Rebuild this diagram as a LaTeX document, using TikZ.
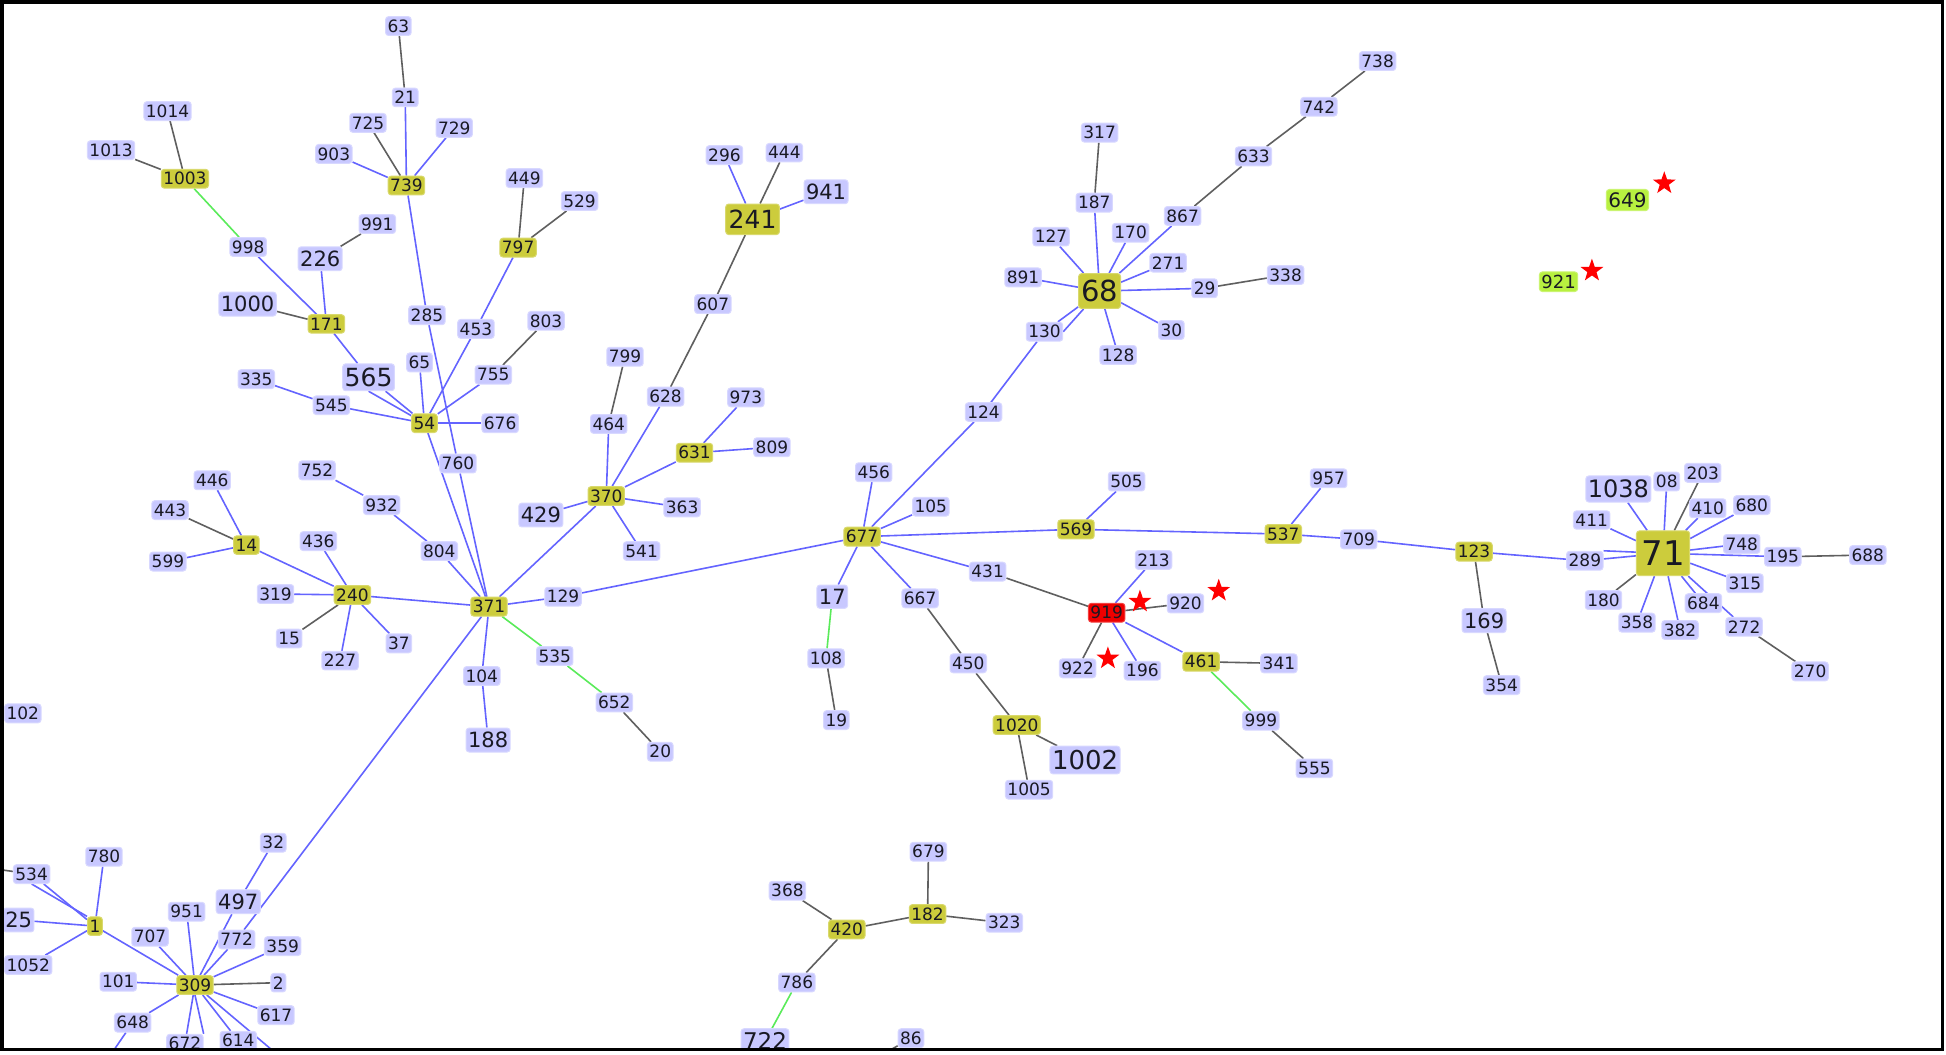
\documentclass[tikz,border=0pt]{standalone}
\usepackage{fontspec}
\setmainfont{DejaVu Sans}
\usetikzlibrary{backgrounds,shapes.geometric}
\definecolor{lav}{RGB}{200,200,255}
\definecolor{lavedge}{RGB}{216,216,255}
\definecolor{hubyel}{RGB}{204,204,60}
\definecolor{redn}{RGB}{238,0,0}
\definecolor{grn}{RGB}{184,240,64}
\definecolor{eblue}{RGB}{100,100,255}
\definecolor{egray}{RGB}{95,95,95}
\definecolor{egreen}{RGB}{90,235,90}
\definecolor{txt}{RGB}{25,25,35}
\tikzset{
  fs/.style={font=\fontsize{#1}{#1}\selectfont},
  lab/.style={fill=lav, draw=lavedge, line width=1pt, rounded corners=3pt,
              inner xsep=2pt, inner ysep=3pt, text=txt, fs=17},
  big/.style={lab, inner ysep=4pt, fs=21},
  hub/.style={lab, fill=hubyel, draw=hubyel!75!white},
  redbox/.style={lab, fill=redn, draw=redn!75!white},
  grnbox/.style={lab, fill=grn, draw=grn!75!white},
  redstar/.style={star, star points=5, star point ratio=2.5, fill=red, draw=none,
                  minimum size=24pt, inner sep=0pt},
  be/.style={draw=eblue, line width=1.6pt},
  ge/.style={draw=egray, line width=1.6pt},
  gre/.style={draw=egreen, line width=1.6pt},
}
\begin{document}
\begin{tikzpicture}[x=1.2411pt, y=-1.2411pt]
\useasboundingbox (0,0) rectangle (1568,849.3);
\begin{scope}
\clip (1.6,1.6) rectangle (1565.3,845.6);
% ---------- top-left cluster
\node[lab] (n63) at (321,21) {63};
\node[lab] (n21) at (326.5,78.5) {21};
\node[lab] (n725) at (296.5,99) {725};
\node[lab] (n729) at (366,103) {729};
\node[lab] (n903) at (269,124) {903};
\node[hub] (n739) at (327.5,149.5) {739};
\node[lab] (n1014) at (135,89.5) {1014};
\node[lab] (n1013) at (89.5,121) {1013};
\node[hub] (n1003) at (149,144) {1003};
\node[lab] (n998) at (200,199) {998};
\node[lab] (n449) at (422.5,143.5) {449};
\node[lab] (n529) at (467,162) {529};
\node[hub] (n797) at (417.5,199.5) {797};
\node[lab] (n991) at (304,180.5) {991};
\node[big] (n226) at (258,208.5) {226};
\node[big] (n1000) at (199.5,245) {1000};
\node[hub] (n171) at (263,261) {171};
\node[lab] (n285) at (344,254) {285};
\node[lab] (n453) at (383.5,265) {453};
\node[lab] (n803) at (440,258.5) {803};
\node[lab] (n65) at (338,292) {65};
\node[lab, inner ysep=4pt, fs=25] (n565) at (297,304) {565};
\node[lab] (n755) at (397.5,302) {755};
\node[lab] (n335) at (206.5,305.5) {335};
\node[lab] (n545) at (267,326.5) {545};
\node[hub] (n54) at (342,341) {54};
\node[lab] (n676) at (403,341) {676};
\node[lab] (n760) at (369,373.5) {760};
\node[lab] (n752) at (255.5,379) {752};
\node[lab] (n932) at (307.5,407) {932};
\node[lab] (n446) at (171,387) {446};
\node[lab] (n443) at (137,411) {443};
\node[hub] (n14) at (198.5,439.2) {14};
\node[lab] (n599) at (135.3,452.5) {599};
\node[lab] (n436) at (256.5,436) {436};
\node[lab] (n804) at (354,444) {804};
\node[lab] (n319) at (222,478.6) {319};
\node[hub] (n240) at (284,479.4) {240};
\node[hub] (n371) at (394,488.8) {371};
\node[lab] (n129) at (453.7,480.8) {129};
\node[lab] (n15) at (233,514.5) {15};
\node[lab] (n37) at (321.4,518.4) {37};
\node[lab] (n227) at (274,532.3) {227};
\node[lab] (n104) at (388.2,544.7) {104};
\node[lab] (n535) at (447,528.6) {535};
\node[big] (n188) at (393.3,596.3) {188};
\node[lab] (n652) at (495,566) {652};
\node[lab] (n20) at (532,605.7) {20};
\node[lab] (n102) at (18.4,574.8) {102};
% ---------- middle
\node[lab] (n296) at (583.7,125) {296};
\node[lab] (n444) at (632,123) {444};
\node[big] (n941) at (665.6,154.5) {941};
\node[hub, inner xsep=3pt, inner ysep=6pt, fs=25] (n241) at (606.4,176.7) {241};
\node[lab] (n607) at (574.4,245) {607};
\node[lab] (n799) at (503.6,287.4) {799};
\node[lab] (n628) at (536.3,319.6) {628};
\node[lab] (n973) at (601,320.2) {973};
\node[lab] (n464) at (490.5,341.6) {464};
\node[hub] (n631) at (559.6,364.8) {631};
\node[lab] (n809) at (622,360.4) {809};
\node[hub] (n370) at (488.5,399.7) {370};
\node[big] (n429) at (435.8,415) {429};
\node[lab] (n363) at (549.6,408.8) {363};
\node[lab] (n541) at (517,444) {541};
\node[lab] (n456) at (704,380.5) {456};
\node[lab] (n105) at (750,408.3) {105};
\node[hub] (n677) at (694.6,432.4) {677};
\node[lab] (n124) at (792.5,332) {124};
\node[hub] (n569) at (867,426.5) {569};
\node[lab] (n505) at (907.7,388) {505};
\node[big] (n17) at (670.6,480.8) {17};
\node[lab] (n431) at (795.8,460.6) {431};
\node[lab] (n667) at (741.4,482.1) {667};
\node[lab] (n108) at (665.6,530.5) {108};
\node[lab] (n19) at (673.9,580.2) {19};
\node[lab] (n450) at (780.2,534.5) {450};
\node[hub] (n1020) at (819.3,584.2) {1020};
\node[lab, inner ysep=4pt, fs=26] (n1002) at (874.3,612.4) {1002};
\node[lab] (n1005) at (829.2,636.3) {1005};
\node[lab] (n213) at (929.5,451.2) {213};
\node[redbox] (n919) at (891.7,493.7) {919};
\node[lab] (n920) at (955.2,486.2) {920};
\node[lab] (n922) at (868.3,538.5) {922};
\node[lab] (n196) at (920.5,540.4) {196};
\node[hub] (n461) at (967.8,533.2) {461};
\node[lab] (n341) at (1030.5,534.5) {341};
\node[lab] (n999) at (1016,580.7) {999};
\node[lab] (n555) at (1059.1,619.1) {555};
\node[redstar] (st1) at (918.5,484.8) {};
\node[redstar] (st2) at (982,476) {};
\node[redstar] (st3) at (892.7,530.5) {};
% ---------- 68 cluster
\node[lab] (n317) at (886,106.9) {317};
\node[lab] (n187) at (881.7,163.3) {187};
\node[lab] (n127) at (846.9,190.7) {127};
\node[lab] (n170) at (911,187.5) {170};
\node[lab] (n867) at (952.9,174) {867};
\node[lab] (n633) at (1010,126) {633};
\node[lab] (n742) at (1062.7,86) {742};
\node[lab] (n738) at (1110,49.2) {738};
\node[lab] (n271) at (941.2,211.7) {271};
\node[lab] (n891) at (824.3,223.5) {891};
\node[hub, inner xsep=2.5pt, inner ysep=6.5pt, fs=29] (n68) at (886,234.5) {68};
\node[lab] (n29) at (970.6,232.3) {29};
\node[lab] (n338) at (1035.9,221.6) {338};
\node[lab] (n130) at (841.6,267.3) {130};
\node[lab] (n30) at (943.8,265.9) {30};
\node[lab] (n128) at (901,286) {128};
% ---------- right
\node[grnbox, fs=20] (n649) at (1311.3,161.2) {649};
\node[redstar] (st4) at (1341,147.7) {};
\node[grnbox, fs=18] (n921) at (1255.8,227) {921};
\node[redstar] (st5) at (1282.7,218.1) {};
\node[lab] (n957) at (1070.6,385.4) {957};
\node[hub] (n537) at (1034,430.3) {537};
\node[lab] (n709) at (1094.8,434.6) {709};
\node[hub] (n123) at (1187.7,444.5) {123};
\node[big] (n169) at (1195.8,500.1) {169};
\node[lab] (n354) at (1210,552) {354};
\node[lab] (n08) at (1343,388) {08};
\node[lab, inner ysep=4pt, fs=24] (n1038) at (1304,394) {1038};
\node[lab] (n203) at (1372,381) {203};
\node[lab] (n411) at (1282.5,419) {411};
\node[lab] (n410) at (1376,409.5) {410};
\node[lab] (n680) at (1411.5,407) {680};
\node[hub, inner xsep=5pt, inner ysep=10pt, fs=34] (n71) at (1340,445.8) {71};
\node[lab] (n748) at (1403.4,438.3) {748};
\node[lab] (n195) at (1436.5,448.6) {195};
\node[lab] (n688) at (1505,447.2) {688};
\node[lab] (n289) at (1277,451.8) {289};
\node[lab] (n180) at (1292,483.5) {180};
\node[lab] (n315) at (1406,470) {315};
\node[lab] (n684) at (1372.5,486) {684};
\node[lab] (n358) at (1319,501.7) {358};
\node[lab] (n382) at (1353.7,507.6) {382};
\node[lab] (n272) at (1405.3,505) {272};
\node[lab] (n270) at (1458.5,541) {270};
% ---------- bottom-left
\node[lab] (n534) at (25.5,704.3) {534};
\node[lab] (n780) at (83.8,690.3) {780};
\node[big] (n25) at (15,741.3) {25};
\node[hub] (n1) at (76.5,746.2) {1};
\node[lab] (n1052) at (22.8,777.6) {1052};
\node[lab] (n951) at (150.4,734.6) {951};
\node[lab] (n707) at (120.9,754.8) {707};
\node[big] (n497) at (192,726.6) {497};
\node[lab] (n32) at (220.2,679) {32};
\node[lab] (n772) at (190.7,757) {772};
\node[lab] (n359) at (227.8,762.3) {359};
\node[lab] (n101) at (95.3,791) {101};
\node[hub] (n309) at (157.1,793.7) {309};
\node[lab] (n2) at (224.3,791.8) {2};
\node[lab] (n648) at (106.9,824) {648};
\node[lab] (n617) at (222.4,817.9) {617};
\node[lab] (n614) at (192,838.6) {614};
\node[lab] (n672) at (149,841) {672};
\coordinate (oL534) at (-5,700);
\coordinate (oB648) at (85,856);
\coordinate (oB309) at (231,856);
% ---------- bottom-middle
\node[lab] (n368) at (634.5,717.7) {368};
\node[lab] (n679) at (748.1,686.3) {679};
\node[hub] (n182) at (747.4,736.5) {182};
\node[lab] (n323) at (809.2,743.5) {323};
\node[hub] (n420) at (682.3,748.9) {420};
\node[lab] (n786) at (642.1,791.6) {786};
\node[lab, inner ysep=4pt, fs=23] (n722) at (616.4,839) {722};
\node[lab] (n86) at (734,836.5) {86};
\coordinate (oB86) at (700,856);
\end{scope}

\begin{pgfonlayer}{background}
\fill[white] (0,0) rectangle (1568,849.3);
\clip (1.6,1.6) rectangle (1565.3,845.6);
% blue edges
\foreach \a/\b in {21/739,729/739,903/739,739/285,285/760,760/371,
  998/171,226/171,171/565,565/54,797/453,453/54,755/54,65/54,335/545,545/54,54/676,54/371,
  752/932,932/804,804/371,446/14,599/14,14/240,436/240,319/240,227/240,37/240,240/371,
  371/129,129/677,371/370,371/104,104/188,371/772,772/309,
  370/464,370/628,370/631,631/973,631/809,370/429,370/363,370/541,
  241/296,241/941,
  677/456,677/124,124/130,130/68,677/105,677/569,569/505,569/537,537/957,537/709,709/123,123/289,289/71,
  677/431,677/17,677/667,919/213,919/196,919/461,
  187/68,127/68,170/68,867/68,271/68,891/68,29/68,30/68,128/68,
  1038/71,08/71,411/71,410/71,680/71,748/71,195/71,315/71,684/71,272/71,382/71,358/71,
  1/534,1/780,1/25,1/1052,1/309,
  309/707,309/951,309/101,309/359,309/617,309/614,309/648,309/672,309/497,497/32}
  \draw[be] (n\a) -- (n\b);
\draw[be] (n565.south) -- (n54);
\draw[be] (n130.east) -- (n68);
\draw[be] (n1.north west) -- (n534.south);
\draw[be] (n289.north east) -- (n71);
\draw[be] (n309.south) -- (n672.north east);
\draw[be] (n648) -- (oB648);
\draw[be] (n309) -- (oB309);
% gray edges
\foreach \a/\b in {63/21,725/739,1003/1014,1003/1013,226/991,1000/171,449/797,529/797,803/755,443/14,15/240,652/20,
  464/799,628/607,607/241,241/444,
  431/919,108/19,667/450,450/1020,1020/1002,1020/1005,919/920,919/922,461/341,999/555,
  317/187,867/633,633/742,742/738,29/338,
  123/169,169/354,203/71,195/688,272/270,180/71,
  309/2,420/368,420/182,182/679,182/323,420/786}
  \draw[ge] (n\a) -- (n\b);
\draw[ge] (oL534) -- (n534);
\draw[ge] (n86) -- (oB86);
% green edges
\foreach \a/\b in {1003/998,371/535,535/652,17/108,461/999,786/722}
  \draw[gre] (n\a) -- (n\b);
\end{pgfonlayer}
\draw[line width=3.5pt, black] (1.6,1.6) rectangle (1565.3,845.6);
\end{tikzpicture}
\end{document}
